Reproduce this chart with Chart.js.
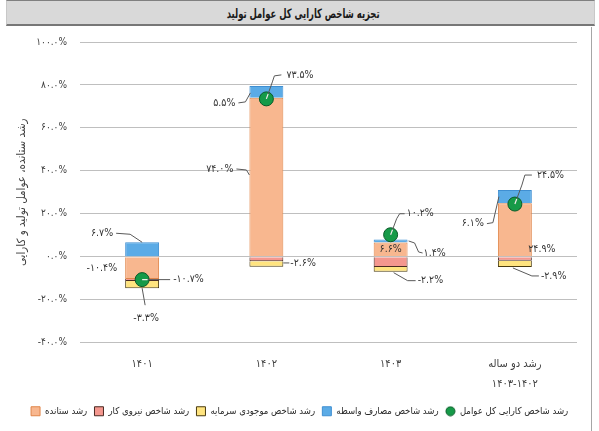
<!DOCTYPE html>
<html><head><meta charset="utf-8">
<script src="https://cdn.jsdelivr.net/npm/chart.js@4/dist/chart.umd.min.js"></script>
<style>
html,body{margin:0;padding:0;background:#fff;width:599px;height:431px;overflow:hidden;}
#wrap{position:relative;width:599px;height:431px;}
#title{position:absolute;left:6px;top:0;width:587px;height:23px;background:#d9d9d9;border-top:1px solid #808080;border-bottom:2px solid #777;border-left:1px solid #c8c8c8;border-right:1px solid #c8c8c8;color:#1a1a1a;text-align:center;line-height:23px;direction:rtl;}
#title span{display:inline-block;font:bold 13px 'DejaVu Sans Condensed','DejaVu Sans';transform:scaleX(0.72);position:relative;left:3px;}
#rline{position:absolute;left:591px;top:27px;width:1px;height:404px;background:#a6a6a6;}
canvas{position:absolute;left:0;top:0;}
</style></head>
<body><div id="wrap"><canvas id="c" width="599" height="431"></canvas><div id="title"><span>تجزیه شاخص کارایی کل عوامل تولید</span></div><div id="rline"></div></div>
<script>
// ---- data ----
const categories = ['۱۴۰۱', '۱۴۰۲', '۱۴۰۳', ['رشد دو ساله', '۱۴۰۳-۱۴۰۲']];
const outputGrowth = [-10.4, 74.0, 6.6, 24.9];
const laborGrowth = [-1.0, -2.1, -4.8, -1.9];
const capitalGrowth = [-3.3, -2.6, -2.2, -2.9];
const intermediateGrowth = [6.7, 5.5, 1.4, 6.1];
const tfpGrowth = [-10.7, 73.5, 10.2, 24.5];
const yMin = -40, yMax = 100, yStep = 20;
const seriesNames = ['رشد ستانده', 'رشد شاخص نیروی کار', 'رشد شاخص موجودی سرمایه', 'رشد شاخص مصارف واسطه', 'رشد شاخص کارایی کل عوامل'];
const yTitle = 'رشد ستانده، عوامل تولید و کارایی';

// ---- helpers ----
const FA = '۰۱۲۳۴۵۶۷۸۹';
const fa = s => String(s).replace(/\d/g, d => FA[d]);
const pct = v => fa(v.toFixed(1)) + '%';
const FONT = "'DejaVu Sans Condensed', 'DejaVu Sans'";

// label placement (offsets relative to the mark)
const labelSpecs = [
  {ds:3, i:0, ref:'top',  lead:[[0,0],[-12,-8],[-26,-9]], tx:-29, ty:-9, align:'right'},
  {ds:0, i:0, ref:'lmid', tx:-8, ty:0, align:'right'},
  {ds:4, i:0, ref:'pt',   lead:[[0,0],[28,0]], tx:31, ty:0, align:'left'},
  {ds:2, i:0, ref:'bottom', lead:[[0,0],[3,17]], tx:4, ty:30, align:'center'},

  {ds:4, i:1, ref:'pt',   lead:[[0,0],[6,-17],[8,-23],[15,-24]], tx:20, ty:-24, align:'left'},
  {ds:3, i:1, ref:'lmid', lead:[[1,1],[-4,10],[-11,11]], tx:-14, ty:11, align:'right'},
  {ds:0, i:1, ref:'lmid', lead:[[0,-2],[-3,-7],[-13,-8]], tx:-16, ty:-8, align:'right'},
  {ds:2, i:1, ref:'rmid', lead:[[0,-1],[6,-1]], tx:7, ty:-1, align:'left'},

  {ds:4, i:2, ref:'pt',   lead:[[0,0],[6,-16],[9,-21],[14,-21]], tx:16, ty:-21, align:'left'},
  {ds:0, i:2, ref:'mid',  tx:0, ty:0, align:'center'},
  {ds:3, i:2, ref:'rmid', lead:[[1,0],[7,2],[11,11],[15,12]], tx:16, ty:12, align:'left'},
  {ds:2, i:2, ref:'bottom', lead:[[3,1],[17,9],[25,9]], tx:27, ty:9, align:'left'},

  {ds:4, i:3, ref:'pt',   lead:[[0,0],[7,-19],[10,-29],[17,-29]], tx:22, ty:-29, align:'left'},
  {ds:3, i:3, ref:'lmid', lead:[[1,0],[-5,26],[-11,27]], tx:-14, ty:27, align:'right'},
  {ds:0, i:3, ref:'base', tx:27, ty:-7, align:'center'},
  {ds:2, i:3, ref:'bottom', lead:[[-2,1],[17,9],[24,9]], tx:26, ty:9, align:'left'}
];

const labelPlugin = {
  id: 'lbl',
  afterDatasetsDraw(chart) {
    const ctx = chart.ctx;
    ctx.save();
    ctx.font = '10.5px ' + FONT;
    ctx.textBaseline = 'middle';
    for (const L of labelSpecs) {
      const meta = chart.getDatasetMeta(L.ds);
      const el = meta.data[L.i];
      const val = chart.data.datasets[L.ds].data[L.i];
      let rx, ry;
      const isPt = meta.type === 'line';
      if (isPt) { rx = el.x; ry = el.y; }
      else {
        const top = Math.min(el.y, el.base), bot = Math.max(el.y, el.base), mid = (top + bot) / 2, hw = el.width / 2;
        if (L.ref === 'top') { rx = el.x; ry = top; }
        else if (L.ref === 'bottom') { rx = el.x; ry = bot; }
        else if (L.ref === 'lmid') { rx = el.x - hw; ry = mid; }
        else if (L.ref === 'rmid') { rx = el.x + hw; ry = mid; }
        else if (L.ref === 'base') { rx = el.x; ry = el.base; }
        else { rx = el.x; ry = mid; }
      }
      if (L.lead) {
        const path = () => { ctx.beginPath(); L.lead.forEach((p, k) => k ? ctx.lineTo(rx + p[0], ry + p[1]) : ctx.moveTo(rx + p[0], ry + p[1])); };
        path(); ctx.strokeStyle = '#595959'; ctx.lineWidth = 1; ctx.stroke();
        if (isPt) {
          ctx.save(); ctx.beginPath(); ctx.arc(rx, ry, el.options.radius - 1.5, 0, Math.PI * 2); ctx.clip();
          path(); ctx.strokeStyle = '#e8f5e8'; ctx.lineWidth = 1.2; ctx.stroke(); ctx.restore();
        }
      }
      ctx.textAlign = L.align;
      ctx.fillStyle = '#333';
      ctx.fillText(pct(val), rx + L.tx, ry + L.ty);
    }
    ctx.restore();
  }
};

// legend circle marker
const circ = document.createElement('canvas');
circ.width = 11; circ.height = 11;
(() => { const c = circ.getContext('2d'); c.beginPath(); c.arc(5.5, 5.5, 4.5, 0, Math.PI * 2); c.fillStyle = '#169a48'; c.fill(); c.lineWidth = 1; c.strokeStyle = '#0a5a28'; c.stroke(); })();

const colors = [
  {bg:'#F8B78F', bd:'#E0864A'},
  {bg:'#F4978E', bd:'#4A2A22'},
  {bg:'#FFE47F', bd:'#4A3B10'},
  {bg:'#5BABE6', bd:'#3F8FD2'},
  {bg:'#169A48', bd:'#0A5A28'}
];
const barSeries = [outputGrowth, laborGrowth, capitalGrowth, intermediateGrowth];

const datasets = barSeries.map((d, k) => ({
  type: 'bar', label: seriesNames[k], data: d, stack: 's', order: 1,
  backgroundColor: colors[k].bg, borderColor: colors[k].bd, borderWidth: 1,
  barPercentage: 0.273, categoryPercentage: 1, pointStyle: 'rect'
}));
datasets.push({
  type: 'line', label: seriesNames[4], data: tfpGrowth, stack: 'tfp', order: 0,
  showLine: false, pointRadius: 7, pointHoverRadius: 7, pointBorderWidth: 1,
  backgroundColor: colors[4].bg, borderColor: colors[4].bd,
  pointBackgroundColor: colors[4].bg, pointBorderColor: colors[4].bd
});

new Chart(document.getElementById('c'), {
  data: { labels: categories, datasets },
  options: {
    responsive: false, animation: false,
    layout: { padding: { top: 42, left: 0, right: 0, bottom: 5 } },
    scales: {
      x: {
        stacked: true,
        grid: { display: false, drawTicks: false },
        border: { display: false },
        ticks: { color: '#404040', font: { family: FONT, size: 11, lineHeight: '20px' }, padding: 12, maxRotation: 0, autoSkip: false },
        afterFit: s => { s.height = 57; }
      },
      y: {
        stacked: true, min: yMin, max: yMax,
        grid: { color: '#BFBFBF', lineWidth: 1, drawTicks: false },
        border: { display: false },
        ticks: { stepSize: yStep, color: '#404040', font: { family: FONT, size: 10 }, padding: 13, callback: v => pct(v) },
        title: { display: true, text: yTitle, color: '#404040', font: { family: FONT, size: 11.5 }, padding: { top: 15, bottom: 0 } },
        afterFit: s => { s.width = 80; }
      },
      yr: {
        type: 'linear', position: 'right', min: yMin, max: yMax,
        grid: { display: false, drawTicks: false }, border: { display: false },
        ticks: { display: false },
        afterFit: s => { s.width = 22; }
      }
    },
    plugins: {
      tooltip: { enabled: false },
      legend: {
        position: 'bottom',
        labels: {
          color: '#262626', font: { family: FONT, size: 9.5 }, usePointStyle: true, boxHeight: 9, padding: 7,
          generateLabels(chart) {
            const items = Chart.defaults.plugins.legend.labels.generateLabels(chart);
            items.sort((a, b) => a.datasetIndex - b.datasetIndex);
            items.forEach(it => { it.pointStyle = it.datasetIndex === 4 ? circ : 'rect'; });
            return items;
          }
        }
      }
    }
  },
  plugins: [labelPlugin]
});
</script>
</body></html>
